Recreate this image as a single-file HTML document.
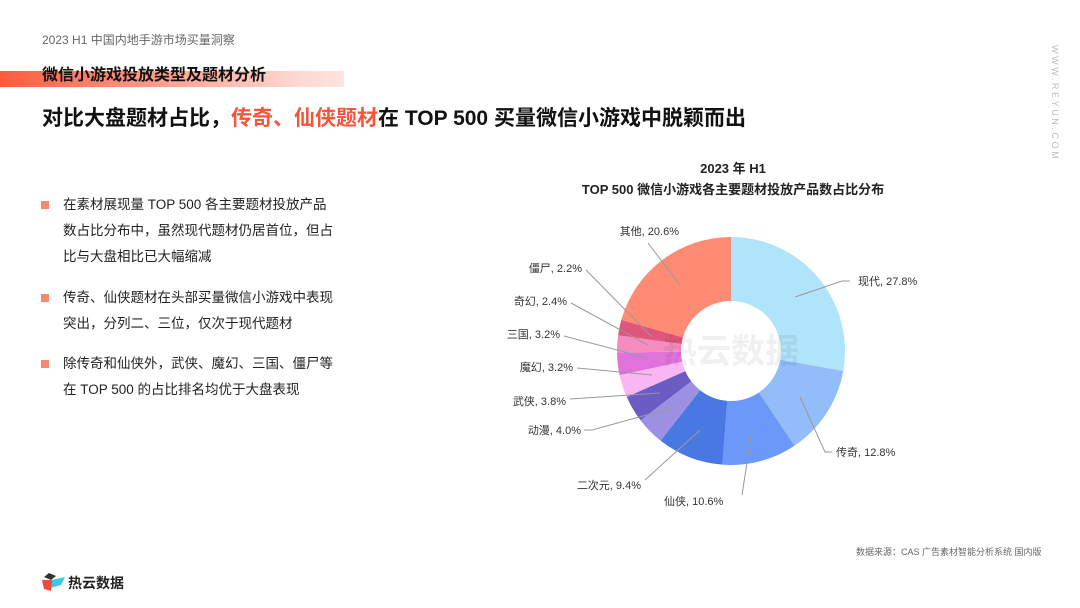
<!DOCTYPE html>
<html><head><meta charset="utf-8"><style>
body{margin:0;width:1080px;height:608px;background:#fff;overflow:hidden;position:relative;font-family:"Liberation Sans","Noto Sans CJK SC",sans-serif;}
.a{position:absolute;white-space:nowrap;}
.t{font-size:13.5px;color:#222;line-height:26px;}
.b{position:absolute;left:41px;width:8px;height:8px;background:#f58a72;}
</style></head><body>
<div class="a" style="left:42px;top:31px;font-size:12px;color:#666;">2023 H1 中国内地手游市场买量洞察</div>
<div class="a" style="left:0;top:71px;width:344px;height:16px;background:linear-gradient(90deg,#ff5a3c,#ffd6cf 85%,#ffe4df);"></div>
<div class="a" style="left:42px;top:61px;font-size:16px;font-weight:bold;color:#111;">微信小游戏投放类型及题材分析</div>
<div class="a" style="left:42px;top:102px;font-size:21px;font-weight:bold;color:#111;">对比大盘题材占比，<span style="color:#f5553a">传奇、仙侠题材</span>在 TOP 500 买量微信小游戏中脱颖而出</div>
<div class="a" style="left:1050px;top:45px;font-size:9px;color:#bbb;letter-spacing:2.6px;writing-mode:vertical-rl;">WWW.REYUN.COM</div>
<div class="b" style="top:201px"></div><div class="b" style="top:294px"></div><div class="b" style="top:360px"></div>
<div class="a t" style="left:63px;top:192px;">在素材展现量 TOP 500 各主要题材投放产品<br>数占比分布中，虽然现代题材仍居首位，但占<br>比与大盘相比已大幅缩减</div>
<div class="a t" style="left:63px;top:285px;">传奇、仙侠题材在头部买量微信小游戏中表现<br>突出，分列二、三位，仅次于现代题材</div>
<div class="a t" style="left:63px;top:351px;">除传奇和仙侠外，武侠、魔幻、三国、僵尸等<br>在 TOP 500 的占比排名均优于大盘表现</div>
<div class="a" style="left:573px;top:158px;width:320px;text-align:center;font-size:13px;font-weight:bold;color:#222;line-height:21px;">2023 年 H1<br>TOP 500 微信小游戏各主要题材投放产品数占比分布</div>
<svg class="a" style="left:0;top:0" width="1080" height="608" id="s"></svg>
<div class="a" style="left:856px;top:545px;font-size:9px;color:#666;">数据来源：CAS 广告素材智能分析系统 国内版</div>
<svg class="a" style="left:40px;top:571px" width="26" height="22"><polygon points="9,2 16,5 11,9 4,6" fill="#333"/><polygon points="12,9 25,6 21,14 10,17" fill="#3ec6e8"/><polygon points="2,9 12,9 11,20 4,18" fill="#f04a3a"/></svg>
<div class="a" style="left:68px;top:573px;font-size:14px;font-weight:bold;color:#222;">热云数据</div>
<script>
var cx=731,cy=351,R=114,r=50;
var d=[[27.8,"#b0e4fb"],[12.8,"#92bdf9"],[10.6,"#6b98f9"],[9.4,"#4a78e3"],[4.0,"#9c90e2"],[3.8,"#6a5cc2"],[3.2,"#f8b6f2"],[3.2,"#e172dc"],[2.4,"#f58cc0"],[2.2,"#e0557c"],[20.6,"#ff8b74"]];
var h="",a=0;
function p(ang,rr){var t=(ang-90)*Math.PI/180;return (cx+rr*Math.cos(t)).toFixed(2)+","+(cy+rr*Math.sin(t)).toFixed(2);}
d.forEach(function(e){var a2=a+e[0]*3.6,l=e[0]*3.6>180?1:0;
h+='<path d="M'+p(a,R)+' A'+R+','+R+' 0 '+l+' 1 '+p(a2,R)+' L'+p(a2,r)+' A'+r+','+r+' 0 '+l+' 0 '+p(a,r)+'Z" fill="'+e[1]+'"/>';a=a2;});
h+='<text x="731" y="363" text-anchor="middle" font-size="34" font-weight="bold" fill="#000" fill-opacity="0.06" font-family="Noto Sans CJK SC,sans-serif">热云数据</text>';
var L=[["现代, 27.8%",858,281,"start","850,281 842,281 795,297"],["传奇, 12.8%",836,452,"start","832,452 825,452 800,397"],["仙侠, 10.6%",664,501,"start","742,495 752,430"],["二次元, 9.4%",641,485,"end","645,480 700,430"],["动漫, 4.0%",581,430,"end","584,430 592,430 672,408"],["武侠, 3.8%",566,401,"end","570,399 660,393"],["魔幻, 3.2%",573,367,"end","577,368 652,375"],["三国, 3.2%",560,334,"end","564,336 648,358"],["奇幻, 2.4%",567,301,"end","571,303 648,345"],["僵尸, 2.2%",582,268,"end","586,270 652,337"],["其他, 20.6%",679,231,"end","648,243 680,285"]];
L.forEach(function(e){h+='<polyline points="'+e[4]+'" fill="none" stroke="#999" stroke-width="1"/><text x="'+e[1]+'" y="'+(e[2]+4)+'" text-anchor="'+e[3]+'" font-size="11" fill="#333" font-family="Liberation Sans,Noto Sans CJK SC,sans-serif">'+e[0]+'</text>';});
document.getElementById("s").innerHTML=h;
</script>
</body></html>
